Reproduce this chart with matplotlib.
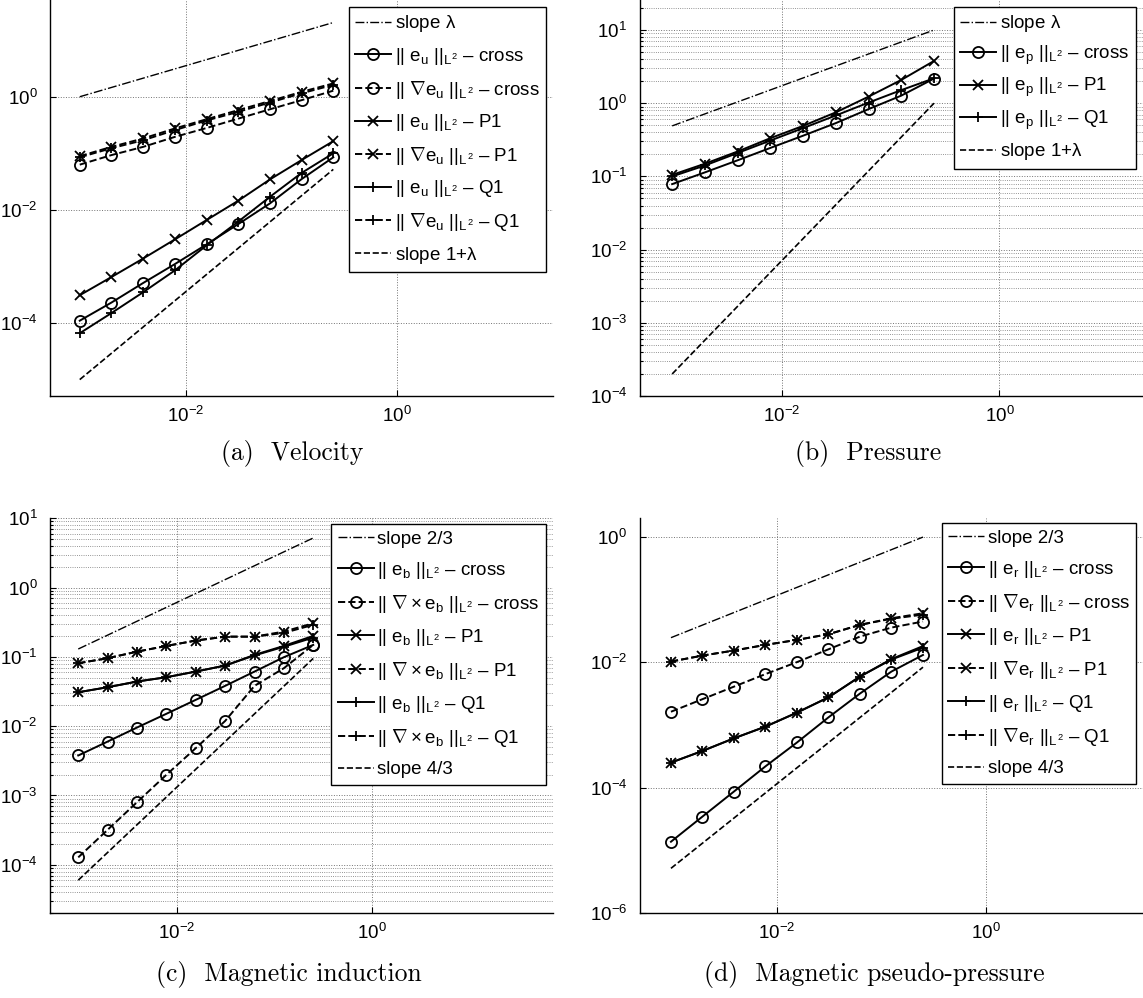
import numpy as np
import matplotlib
matplotlib.use('Agg')
import matplotlib.pyplot as plt
from matplotlib.ticker import FixedLocator, NullLocator, LogLocator, NullFormatter

plt.rcParams['font.family'] = ['Liberation Sans', 'DejaVu Sans']
plt.rcParams['mathtext.fontset'] = 'custom'
plt.rcParams['mathtext.rm'] = 'Liberation Sans'
plt.rcParams['mathtext.it'] = 'Liberation Sans'
plt.rcParams['mathtext.sf'] = 'Liberation Sans'
plt.rcParams['axes.formatter.use_mathtext'] = True

W, H = 1143, 998

# mesh sizes
h = [1/1024, 1/512, 1/256, 1/128, 1/64, 1/32, 1/16, 1/8, 1/4]

# (a) velocity
u_cross  = [1.1e-4, 2.3e-4, 5.1e-4, 1.1e-3, 2.45e-3, 5.6e-3, 1.3e-2, 3.5e-2, 8.5e-2]
gu_cross = [0.063, 0.093, 0.13, 0.195, 0.28, 0.41, 0.60, 0.87, 1.28]
u_p1     = [3.1e-4, 6.5e-4, 1.38e-3, 3.0e-3, 6.6e-3, 1.45e-2, 3.45e-2, 7.6e-2, 0.164]
gu_p1    = [0.089, 0.13, 0.183, 0.275, 0.40, 0.58, 0.84, 1.22, 1.72]
u_q1     = [6.6e-5, 1.5e-4, 3.5e-4, 8.5e-4, 2.35e-3, 6.2e-3, 1.7e-2, 4.5e-2, 0.1]
gu_q1    = [0.085, 0.123, 0.17, 0.257, 0.38, 0.54, 0.79, 1.15, 1.62]
a_slope_lam  = [1.0, 20.5]
a_slope_1lam = [1e-5, 0.052]

# (b) pressure
p_cross = [0.0785, 0.1135, 0.166, 0.245, 0.36, 0.535, 0.83, 1.27, 2.17]
p_p1    = [0.105, 0.149, 0.219, 0.333, 0.49, 0.75, 1.23, 2.08, 3.78]
p_q1    = [0.1, 0.141, 0.209, 0.309, 0.457, 0.68, 1.02, 1.51, 2.19]
b_slope_lam  = [0.49, 10.0]
b_slope_1lam = [2e-4, 1.0]

# (c) magnetic induction
bb_cross = [3.78e-3, 6.0e-3, 9.57e-3, 1.51e-2, 2.40e-2, 3.82e-2, 6.14e-2, 9.9e-2, 0.149]
cb_cross = [1.28e-4, 3.2e-4, 8.0e-4, 1.99e-3, 4.82e-3, 1.19e-2, 3.82e-2, 6.87e-2, 0.149]
bb_p1    = [0.0309, 0.0365, 0.0441, 0.0509, 0.0614, 0.075, 0.107, 0.144, 0.201]
cb_p1    = [0.081, 0.0958, 0.119, 0.144, 0.172, 0.196, 0.196, 0.232, 0.306]
bb_q1    = [0.0309, 0.0365, 0.0441, 0.0509, 0.0614, 0.075, 0.105, 0.140, 0.19]
cb_q1    = [0.081, 0.0958, 0.119, 0.144, 0.172, 0.196, 0.196, 0.222, 0.29]
c_slope_23 = [0.13, 5.2]
c_slope_43 = [6e-5, 0.095]

# (d) magnetic pseudo-pressure
r_cross  = [1.38e-5, 3.47e-5, 8.7e-5, 2.19e-4, 5.25e-4, 1.32e-3, 3.16e-3, 7.08e-3, 1.30e-2]
gr_cross = [1.62e-3, 2.57e-3, 4.07e-3, 6.45e-3, 1.0e-2, 1.60e-2, 2.55e-2, 3.55e-2, 4.43e-2]
r_p1     = [2.51e-4, 3.85e-4, 6.12e-4, 9.4e-4, 1.57e-3, 2.75e-3, 5.89e-3, 1.12e-2, 1.8e-2]
gr_p1    = [1.02e-2, 1.27e-2, 1.53e-2, 1.88e-2, 2.26e-2, 2.78e-2, 3.92e-2, 5.0e-2, 6.0e-2]
r_q1     = [2.51e-4, 3.85e-4, 6.12e-4, 9.4e-4, 1.57e-3, 2.75e-3, 5.89e-3, 1.10e-2, 1.7e-2]
gr_q1    = [1.02e-2, 1.27e-2, 1.53e-2, 1.88e-2, 2.26e-2, 2.78e-2, 3.92e-2, 4.9e-2, 5.7e-2]
d_slope_23 = [0.0245, 0.98]
d_slope_43 = [5.2e-6, 8.3e-3]

captions = ['(a)  Velocity', '(b)  Pressure', '(c)  Magnetic induction', '(d)  Magnetic pseudo-pressure']

fig = plt.figure(figsize=(W/100, H/100), dpi=100)

def place(l, r, t, b):
	return fig.add_axes([l/W, 1 - b/H, (r - l)/W, (b - t)/H])

def style_axes(ax, xlim, ylim, yticks, minor_grid):
	ax.set_xscale('log')
	ax.set_yscale('log')
	ax.set_xlim(*xlim)
	ax.set_ylim(*ylim)
	ax.xaxis.set_major_locator(FixedLocator([1e-2, 1e0]))
	ax.xaxis.set_minor_locator(NullLocator())
	ax.yaxis.set_major_locator(FixedLocator(yticks))
	if minor_grid:
		ax.yaxis.set_minor_locator(LogLocator(base=10, subs=np.arange(2, 10)))
		ax.yaxis.set_minor_formatter(NullFormatter())
		ax.yaxis.grid(True, which='minor', ls=':', color='0.45', lw=0.6)
	else:
		ax.yaxis.set_minor_locator(NullLocator())
	ax.grid(True, which='major', ls=':', color='0.45', lw=0.7)
	ax.tick_params(which='both', direction='in', labelsize=13.5, length=4, width=0.8)
	ax.tick_params(axis='y', pad=9)
	ax.tick_params(axis='x', pad=7)
	ax.tick_params(which='minor', length=2)
	for s in ['top', 'right']:
		ax.spines[s].set_visible(False)
	for s in ['left', 'bottom']:
		ax.spines[s].set_linewidth(1.0)
	ax.set_axisbelow(True)

def draw(ax, slope1, slope1_lab, series, slope2, slope2_lab):
	ends = [h[0], h[-1]]
	ax.plot(ends, slope1, color='k', ls='-.', lw=1.0, label=slope1_lab)
	for vals, ls, mk, lab in series:
		ax.plot(h, vals, color='k', ls=ls, lw=1.4, marker=mk, ms=8 if mk == 'o' else 7,
				mfc='none', mec='k', mew=1.3, label=lab)
	ax.plot(ends, slope2, color='k', ls='--', lw=1.2, label=slope2_lab)

def legend(ax, rx, ty, spacing):
	leg = ax.legend(loc='upper right', bbox_to_anchor=(rx/W, 1 - ty/H), bbox_transform=fig.transFigure,
					borderaxespad=0, fontsize=13.5, handlelength=1.9, handletextpad=0.2,
					labelspacing=spacing, borderpad=0.35, fancybox=False, edgecolor='k', framealpha=1)
	leg.get_frame().set_linewidth(1.0)

# (a)
ax1 = place(50.3, 552.5, 0, 396)
draw(ax1, a_slope_lam, r'slope $\lambda$', [
	(u_cross,  '-',  'o', r'$||\ e_u\ ||_{L^2}$ – cross'),
	(gu_cross, '--', 'o', r'$||\ \nabla e_u\ ||_{L^2}$ – cross'),
	(u_p1,     '-',  'x', r'$||\ e_u\ ||_{L^2}$ – P1'),
	(gu_p1,    '--', 'x', r'$||\ \nabla e_u\ ||_{L^2}$ – P1'),
	(u_q1,     '-',  '+', r'$||\ e_u\ ||_{L^2}$ – Q1'),
	(gu_q1,    '--', '+', r'$||\ \nabla e_u\ ||_{L^2}$ – Q1'),
], a_slope_1lam, r'slope 1+$\lambda$')
style_axes(ax1, (10**-3.29, 10**1.48), (10**-5.29, 10**1.71), [1e-4, 1e-2, 1e0], False)
legend(ax1, 546, 6.7, 0.62)

# (b)
ax2 = place(639.6, 1143, 0, 396)
draw(ax2, b_slope_lam, r'slope $\lambda$', [
	(p_cross, '-', 'o', r'$||\ e_p\ ||_{L^2}$ – cross'),
	(p_p1,    '-', 'x', r'$||\ e_p\ ||_{L^2}$ – P1'),
	(p_q1,    '-', '+', r'$||\ e_p\ ||_{L^2}$ – Q1'),
], b_slope_1lam, r'slope 1+$\lambda$')
style_axes(ax2, (10**-3.31, 10**1.32), (1e-4, 10**1.41), [1e-4, 1e-3, 1e-2, 1e-1, 1e0, 1e1], True)
legend(ax2, 1135.6, 6.7, 0.5)

# (c)
ax3 = place(50, 552.5, 518.3, 913.3)
draw(ax3, c_slope_23, 'slope 2/3', [
	(bb_cross, '-',  'o', r'$||\ e_b\ ||_{L^2}$ – cross'),
	(cb_cross, '--', 'o', r'$||\ \nabla\times e_b\ ||_{L^2}$ – cross'),
	(bb_p1,    '-',  'x', r'$||\ e_b\ ||_{L^2}$ – P1'),
	(cb_p1,    '--', 'x', r'$||\ \nabla\times e_b\ ||_{L^2}$ – P1'),
	(bb_q1,    '-',  '+', r'$||\ e_b\ ||_{L^2}$ – Q1'),
	(cb_q1,    '--', '+', r'$||\ \nabla\times e_b\ ||_{L^2}$ – Q1'),
], c_slope_43, 'slope 4/3')
style_axes(ax3, (10**-3.30, 10**1.85), (10**-4.70, 10), [1e-4, 1e-3, 1e-2, 1e-1, 1e0, 1e1], True)
legend(ax3, 546, 524.3, 0.64)

# (d)
ax4 = place(639.6, 1143, 518.3, 913.3)
draw(ax4, d_slope_23, 'slope 2/3', [
	(r_cross,  '-',  'o', r'$||\ e_r\ ||_{L^2}$ – cross'),
	(gr_cross, '--', 'o', r'$||\ \nabla e_r\ ||_{L^2}$ – cross'),
	(r_p1,     '-',  'x', r'$||\ e_r\ ||_{L^2}$ – P1'),
	(gr_p1,    '--', 'x', r'$||\ \nabla e_r\ ||_{L^2}$ – P1'),
	(r_q1,     '-',  '+', r'$||\ e_r\ ||_{L^2}$ – Q1'),
	(gr_q1,    '--', '+', r'$||\ \nabla e_r\ ||_{L^2}$ – Q1'),
], d_slope_43, 'slope 4/3')
style_axes(ax4, (10**-3.31, 10**1.50), (1e-6, 10**0.29), [1e-6, 1e-4, 1e-2, 1e0], False)
legend(ax4, 1136.4, 523.3, 0.64)

# captions
for (cx, cy), txt in zip([(292, 453), (868, 453), (289, 975), (874, 975)], captions):
	fig.text(cx/W, 1 - cy/H, txt, ha='center', va='center', fontfamily='cmr10', fontsize=18.5)

fig.savefig('out.png', dpi=100)
